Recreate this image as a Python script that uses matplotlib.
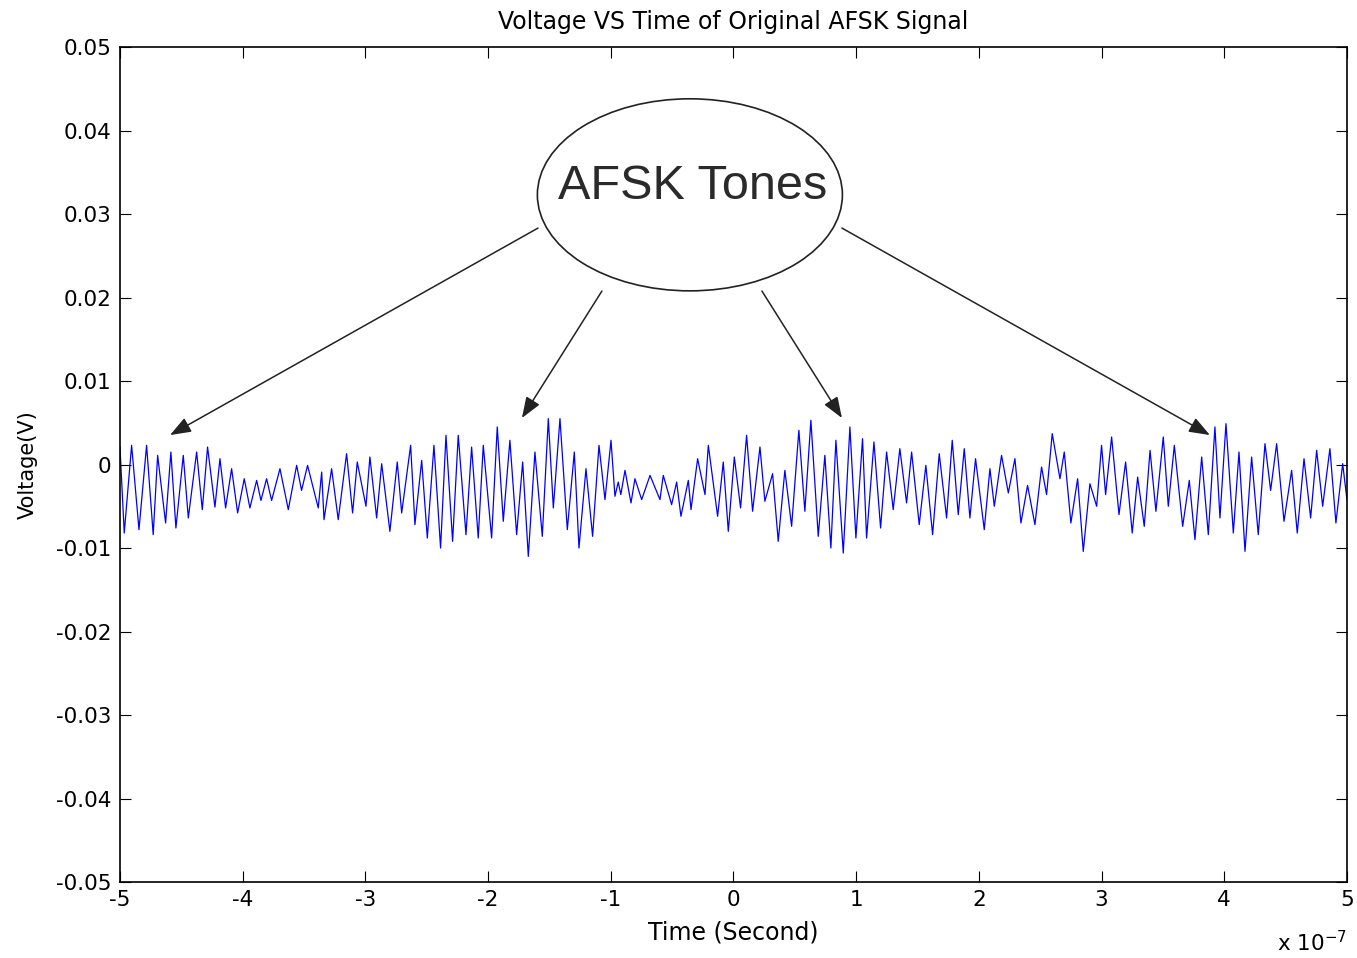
import matplotlib
matplotlib.use("Agg")
import matplotlib.pyplot as plt
from matplotlib.patches import Ellipse

plt.rcParams['font.family'] = ['DejaVu Sans']

# signal extrema: time in units of 1e-7 s, voltage in mV
time_e7 = [
    -5.000, -4.965, -4.905, -4.845, -4.783, -4.729, -4.693, -4.628, -4.585, -4.544,
    -4.484, -4.443, -4.375, -4.329, -4.286, -4.226, -4.185, -4.139, -4.090, -4.041,
    -3.987, -3.941, -3.886, -3.851, -3.805, -3.764, -3.696, -3.628, -3.560, -3.520,
    -3.471, -3.384,
    -3.356, -3.337, -3.275, -3.221, -3.153, -3.104, -3.066, -2.995, -2.963, -2.908,
    -2.867, -2.800, -2.740, -2.704, -2.631, -2.596, -2.541, -2.495, -2.441, -2.387,
    -2.343, -2.289, -2.243, -2.180, -2.134, -2.080, -2.039, -1.971, -1.925, -1.876,
    -1.822, -1.767, -1.718, -1.672,
    -1.618, -1.558, -1.509, -1.468, -1.414, -1.354, -1.297, -1.259, -1.202, -1.148,
    -1.096, -1.047, -0.998, -0.966, -0.939, -0.918, -0.884, -0.835, -0.803, -0.748,
    -0.680, -0.599, -0.572, -0.504, -0.463, -0.428, -0.368, -0.346, -0.292, -0.232,
    -0.205, -0.129, -0.083, -0.042, 0.007,
    0.058, 0.107, 0.156, 0.216, 0.256, 0.319, 0.365, 0.419, 0.474, 0.533,
    0.582, 0.631, 0.691, 0.745, 0.794, 0.835, 0.895, 0.949, 0.998, 1.052,
    1.085, 1.145, 1.199, 1.248, 1.302, 1.356, 1.411, 1.452, 1.514, 1.568,
    1.623, 1.677,
    1.737, 1.783, 1.832, 1.881, 1.927, 1.973, 2.044, 2.090, 2.126, 2.185,
    2.240, 2.294, 2.343, 2.397, 2.457, 2.511, 2.552, 2.598, 2.661, 2.696,
    2.750, 2.805, 2.851, 2.905, 2.960, 3.000, 3.033, 3.082, 3.142, 3.196,
    3.250, 3.294, 3.348,
    3.395, 3.443, 3.503, 3.544, 3.593, 3.661, 3.715, 3.761, 3.816, 3.870,
    3.924, 3.965, 4.014, 4.074, 4.120, 4.169, 4.223, 4.277, 4.332, 4.378,
    4.427, 4.487, 4.549, 4.595, 4.650, 4.704, 4.753, 4.802, 4.861, 4.910,
    4.965, 5.000,
]
volt_mv = [
    2.1, -8.2, 2.3, -7.8, 2.3, -8.4, 1.1, -7.0, 1.5, -7.6,
    1.1, -6.4, 1.5, -5.4, 2.1, -5.1, 0.7, -5.2, -0.5, -5.8,
    -1.7, -5.2, -1.9, -4.3, -1.7, -4.3, -0.5, -5.4, -0.1, -3.1,
    -0.1, -5.2,
    -0.9, -6.6, -0.5, -6.6, 1.3, -5.8, 0.3, -5.0, 0.9, -6.4,
    0.1, -8.0, 0.3, -5.8, 2.3, -7.2, 0.5, -8.8, 2.3, -10.0,
    3.5, -9.2, 3.5, -8.4, 2.1, -8.8, 2.3, -8.8, 4.5, -6.8,
    2.9, -8.4, 0.3, -11.0,
    1.5, -8.6, 5.5, -5.2, 5.5, -7.8, 1.5, -10.0, -0.5, -8.6,
    2.3, -4.2, 2.9, -3.8, -2.1, -3.6, -0.7, -4.6, -1.7, -4.2,
    -1.3, -4.2, -1.3, -4.8, -2.1, -6.2, -1.9, -5.4, 0.7, -3.6,
    2.3, -6.2, 0.3, -8.0, 0.9,
    -5.2, 3.5, -5.6, 2.1, -4.4, -1.1, -9.2, -0.7, -7.4, 4.1,
    -5.6, 5.3, -8.6, 1.1, -10.0, 2.9, -10.6, 4.5, -8.8, 3.1,
    -8.8, 2.7, -7.6, 1.5, -5.4, 1.9, -4.6, 1.5, -7.2, -0.1,
    -8.4, 1.3,
    -6.4, 2.9, -6.0, 1.9, -6.4, 0.7, -7.8, -0.5, -5.0, 1.1,
    -3.4, 0.7, -7.0, -2.5, -7.2, -0.3, -3.6, 3.7, -1.7, 1.5,
    -7.0, -1.7, -10.4, -2.3, -5.0, 2.3, -3.6, 3.3, -6.0, 0.3,
    -8.2, -1.5, -7.4,
    1.7, -5.6, 3.3, -5.0, 2.3, -7.4, -1.9, -9.0, 0.9, -8.4,
    4.5, -6.4, 4.9, -8.2, 1.5, -10.4, 0.9, -8.4, 2.5, -3.1,
    2.5, -6.8, -0.7, -8.2, 0.7, -6.4, 1.7, -5.0, 1.9, -7.0,
    0.1, -4.2,
]

x_ticks = [-5, -4, -3, -2, -1, 0, 1, 2, 3, 4, 5]
x_labels = ['-5', '-4', '-3', '-2', '-1', '0', '1', '2', '3', '4', '5']
y_ticks = [-0.05, -0.04, -0.03, -0.02, -0.01, 0, 0.01, 0.02, 0.03, 0.04, 0.05]
y_labels = ['-0.05', '-0.04', '-0.03', '-0.02', '-0.01', '0',
            '0.01', '0.02', '0.03', '0.04', '0.05']

# arrows from the "AFSK Tones" bubble: (tail, tip) in data coords
arrows = [
    ((-1.593, 0.02832), (-4.592, 0.00353)),
    ((-1.072, 0.02078), (-1.724, 0.00557)),
    ((0.232, 0.02078), (0.884, 0.00557)),
    ((0.884, 0.02832), (3.883, 0.00353)),
]

volts = [v / 1000.0 for v in volt_mv]

fig = plt.figure(figsize=(13.57, 9.58), dpi=100)
ax = fig.add_axes([0.0884, 0.0793, 0.9042, 0.8716])

ax.plot(time_e7, volts, color='#0000ff', linewidth=0.9)

ax.set_xlim(-5, 5)
ax.set_ylim(-0.05, 0.05)
ax.set_xticks(x_ticks)
ax.set_xticklabels(x_labels)
ax.set_yticks(y_ticks)
ax.set_yticklabels(y_labels)
ax.tick_params(direction='in', length=8, width=0.8, labelsize=15.5,
               top=True, right=True, pad=6)
for s in ax.spines.values():
    s.set_linewidth(1.2)

ax.set_title('Voltage VS Time of Original AFSK Signal', fontsize=17, pad=13)
ax.set_xlabel('Time (Second)', fontsize=17, labelpad=7)
ax.set_ylabel('Voltage(V)', fontsize=15, labelpad=13)
fig.text(0.9926, 0.003, r'x 10$^{\mathregular{-7}}$', fontsize=15.5,
         ha='right', va='bottom')

# bubble + arrows
ax.add_patch(Ellipse((-0.355, 0.0323), 2.486, 0.0230, fill=False,
                     edgecolor='#222222', linewidth=1.2))
ax.text(-0.33, 0.0333, 'AFSK Tones', fontsize=35, color='#2a2a2a',
        family=['Liberation Sans', 'DejaVu Sans'], ha='center', va='center')
for tail, tip in arrows:
    ax.annotate('', xy=tip, xytext=tail,
                arrowprops=dict(arrowstyle='-|>,head_length=0.8,head_width=0.3',
                                color='#222222', lw=1.1, mutation_scale=16,
                                shrinkA=0, shrinkB=0))

fig.savefig('out.png', dpi=100)
